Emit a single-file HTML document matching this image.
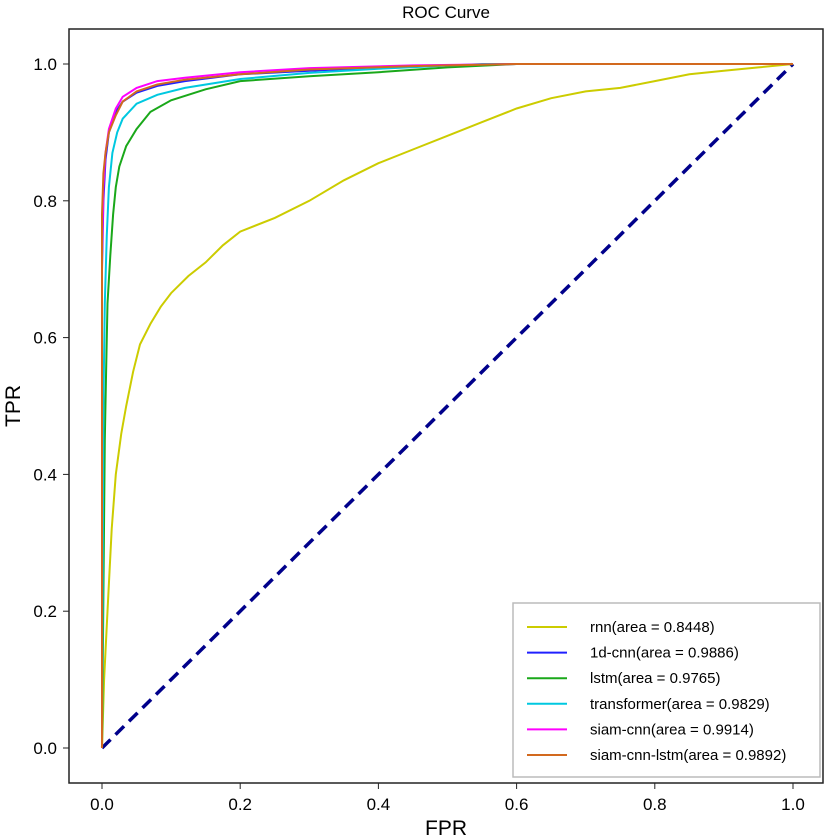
<!DOCTYPE html>
<html><head><meta charset="utf-8"><style>
body{margin:0;background:#fff;}
svg{display:block;font-family:"Liberation Sans",sans-serif;}
</style></head><body>
<svg id="chart" width="830" height="840">
<rect x="0" y="0" width="830" height="840" fill="#fff"/>
<text x="446" y="18" text-anchor="middle" font-size="17">ROC Curve</text>
<text x="446" y="835" text-anchor="middle" font-size="21">FPR</text>
<text x="20" y="406" text-anchor="middle" font-size="21" transform="rotate(-90 20 406)">TPR</text>
<g id="ticks"></g>
<g id="lines"></g>
<rect x="69" y="29" width="754" height="754" fill="none" stroke="#222" stroke-width="1.5"/>
<g id="legend"></g>
</svg>
<script>
const xTicks=[0,0.2,0.4,0.6,0.8,1.0];
const yTicks=[0,0.2,0.4,0.6,0.8,1.0];
const seriesNames=["rnn(area = 0.8448)","1d-cnn(area = 0.9886)"," lstm(area = 0.9765)","transformer(area = 0.9829)","siam-cnn(area = 0.9914)","siam-cnn-lstm(area = 0.9892)"];
const seriesColors=["#cccc00","#2020ff","#1aa81a","#00c8e0","#ff00ff","#d2691e"];
const rnnFpr=[0,0.003,0.008,0.014,0.02,0.028,0.035,0.045,0.055,0.07,0.085,0.1,0.125,0.15,0.175,0.2,0.25,0.3,0.35,0.4,0.45,0.5,0.55,0.6,0.65,0.7,0.75,0.8,0.85,0.9,0.95,1];
const rnnTpr=[0,0.1,0.2,0.32,0.4,0.46,0.5,0.55,0.59,0.62,0.645,0.665,0.69,0.71,0.735,0.755,0.775,0.8,0.83,0.855,0.875,0.895,0.915,0.935,0.95,0.96,0.965,0.975,0.985,0.99,0.995,1];
const cnnFpr=[0,0,0.002,0.005,0.01,0.02,0.03,0.05,0.08,0.12,0.2,0.3,0.45,0.6,1];
const cnnTpr=[0,0.7,0.8,0.86,0.9,0.93,0.945,0.958,0.968,0.975,0.985,0.99,0.997,1,1];
const lstmFpr=[0,0.004,0.006,0.008,0.012,0.016,0.02,0.025,0.035,0.05,0.07,0.1,0.15,0.2,0.3,0.4,0.5,0.6,1];
const lstmTpr=[0,0.45,0.55,0.65,0.72,0.78,0.82,0.85,0.88,0.905,0.93,0.947,0.963,0.975,0.982,0.988,0.995,1,1];
const trFpr=[0,0.002,0.004,0.007,0.01,0.015,0.022,0.03,0.05,0.08,0.12,0.2,0.3,0.4,0.55,1];
const trTpr=[0,0.5,0.65,0.75,0.82,0.87,0.9,0.92,0.942,0.955,0.965,0.978,0.987,0.993,1,1];
const siamFpr=[0,0,0.002,0.005,0.01,0.02,0.03,0.05,0.08,0.12,0.2,0.3,0.45,0.6,1];
const siamTpr=[0,0.72,0.82,0.87,0.905,0.935,0.952,0.965,0.975,0.98,0.988,0.994,0.998,1,1];
const sclFpr=[0,0,0.002,0.005,0.01,0.02,0.03,0.05,0.08,0.12,0.2,0.3,0.45,0.6,1];
const sclTpr=[0,0.78,0.84,0.87,0.9,0.925,0.945,0.96,0.97,0.977,0.985,0.992,0.997,1,1];
const allFpr=[rnnFpr,cnnFpr,lstmFpr,trFpr,siamFpr,sclFpr];
const allTpr=[rnnTpr,cnnTpr,lstmTpr,trTpr,siamTpr,sclTpr];
const NS="http://www.w3.org/2000/svg";
const X=v=>102+v*691, Y=v=>748-v*684;
const tk=document.getElementById('ticks');
xTicks.forEach(t=>{
 const l=document.createElementNS(NS,'line');
 l.setAttribute('x1',X(t));l.setAttribute('x2',X(t));l.setAttribute('y1',783);l.setAttribute('y2',789);l.setAttribute('stroke','#222');
 
 
 tk.appendChild(l);
 const s=document.createElementNS(NS,'text');
 s.setAttribute('x',X(t));s.setAttribute('y',810);s.setAttribute('text-anchor','middle');s.setAttribute('font-size','17');
 s.textContent=t.toFixed(1);
 
 
 tk.appendChild(s);
});
yTicks.forEach(t=>{
 const l=document.createElementNS(NS,'line');
 l.setAttribute('x1',63);l.setAttribute('x2',69);l.setAttribute('y1',Y(t));l.setAttribute('y2',Y(t));l.setAttribute('stroke','#222');
 
 
 tk.appendChild(l);
 const s=document.createElementNS(NS,'text');
 s.setAttribute('x',57);s.setAttribute('y',Y(t)+6);s.setAttribute('text-anchor','end');s.setAttribute('font-size','17');
 s.textContent=t.toFixed(1);
 
 
 tk.appendChild(s);
});
const lg=document.getElementById('lines');
const diag=document.createElementNS(NS,'line');
diag.setAttribute('x1',X(0));diag.setAttribute('y1',Y(0));diag.setAttribute('x2',X(1));diag.setAttribute('y2',Y(1));
diag.setAttribute('stroke','#00008b');diag.setAttribute('stroke-width','3.5');diag.setAttribute('stroke-dasharray','12,7');


lg.appendChild(diag);
allFpr.forEach((fx,i)=>{
 const ty=allTpr[i];
 const p=document.createElementNS(NS,'polyline');
 p.setAttribute('points',fx.map((v,j)=>X(v).toFixed(1)+','+Y(ty[j]).toFixed(1)).join(' '));
 p.setAttribute('fill','none');p.setAttribute('stroke',seriesColors[i]);p.setAttribute('stroke-width','2');
 
 
 lg.appendChild(p);
});
const leg=document.getElementById('legend');
const box=document.createElementNS(NS,'rect');
box.setAttribute('x',513);box.setAttribute('y',603);box.setAttribute('width',307);box.setAttribute('height',174);
box.setAttribute('fill','#fff');box.setAttribute('stroke','#bbb');box.setAttribute('stroke-width','1.5');


leg.appendChild(box);
seriesNames.forEach((n,i)=>{
 const y=627+i*25.6;
 const l=document.createElementNS(NS,'line');
 l.setAttribute('x1',527);l.setAttribute('x2',567);l.setAttribute('y1',y);l.setAttribute('y2',y);
 l.setAttribute('stroke',seriesColors[i]);l.setAttribute('stroke-width','2');
 
 
 leg.appendChild(l);
 const s=document.createElementNS(NS,'text');
 s.setAttribute('x',590);s.setAttribute('y',y+5);s.setAttribute('font-size','15');
 s.setAttribute('xml:space','preserve');
 s.textContent=n;
 
 
 leg.appendChild(s);
});
</script>
</body></html>
